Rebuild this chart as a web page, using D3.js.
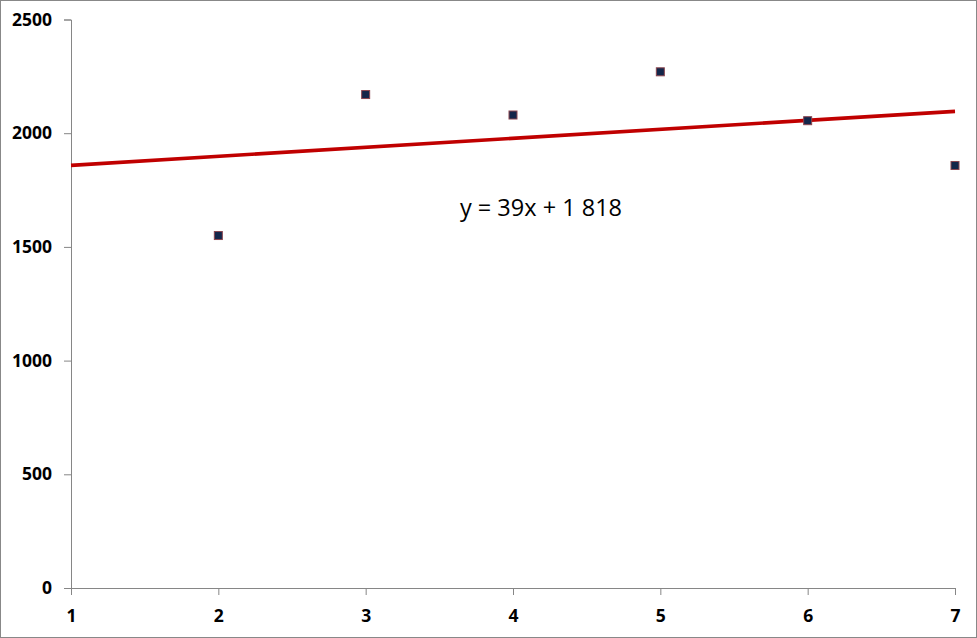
<!DOCTYPE html>
<html><head><meta charset="utf-8">
<script src="https://cdn.jsdelivr.net/npm/d3@7"></script>
<style>html,body{margin:0;padding:0;background:#fff;}svg{display:block;}</style>
</head><body>
<script>
const xValues = [2, 3, 4, 5, 6, 7];
const yValues = [1550, 2170, 2080, 2270, 2055, 1858];
const yTicks = [0, 500, 1000, 1500, 2000, 2500];
const xTicks = [1, 2, 3, 4, 5, 6, 7];
const equationLabel = "y = 39x + 1 818";

const W = 977, H = 638;
const svg = d3.select("body").append("svg").attr("width", W).attr("height", H);
svg.append("rect").attr("x", 0.5).attr("y", 0.5).attr("width", W - 1).attr("height", H - 1)
  .attr("fill", "#fff").attr("stroke", "#888");

const x = d3.scaleLinear().domain([1, 7]).range([71, 955]);
const y = d3.scaleLinear().domain([0, 2500]).range([588, 19.5]);

const font = "'Open Sans', 'Liberation Sans', sans-serif";

const yAxis = svg.append("g").attr("transform", "translate(71,0)")
  .call(d3.axisLeft(y).tickValues(yTicks).tickSize(7).tickPadding(12).tickFormat(d3.format("d")));
const xAxis = svg.append("g").attr("transform", "translate(0,588)")
  .call(d3.axisBottom(x).tickValues(xTicks).tickSize(7).tickPadding(15).tickFormat(d3.format("d")));
[yAxis, xAxis].forEach(g => {
  g.select(".domain").attr("stroke", "#868686");
  g.selectAll(".tick line").attr("stroke", "#868686");
  g.selectAll("text").attr("fill", "#000").style("font-family", font)
    .style("font-weight", "bold").style("font-size", "17.5px");
});

// linear regression trend line
const n = xValues.length;
const mx = d3.mean(xValues), my = d3.mean(yValues);
let sxy = 0, sxx = 0;
for (let i = 0; i < n; i++) { sxy += (xValues[i] - mx) * (yValues[i] - my); sxx += (xValues[i] - mx) ** 2; }
const slope = sxy / sxx, intercept = my - slope * mx;
const trend = [1, 7].map(v => [v, intercept + slope * v]);

svg.append("path").datum(trend)
  .attr("d", d3.line().x(d => x(d[0])).y(d => y(d[1])))
  .attr("stroke", "#c00000").attr("stroke-width", 3.6).attr("fill", "none");

const s = 8;
svg.selectAll("rect.pt").data(xValues.map((v, i) => [v, yValues[i]])).enter().append("rect")
  .attr("class", "pt")
  .attr("x", d => x(d[0]) - s / 2).attr("y", d => y(d[1]) - s / 2)
  .attr("width", s).attr("height", s)
  .attr("fill", "#13264a").attr("stroke", "#8a4650").attr("stroke-width", 1);

svg.append("text").attr("x", 541).attr("y", 216).attr("text-anchor", "middle")
  .style("font-family", font).style("font-size", "23.5px").attr("fill", "#000")
  .text(equationLabel);
</script>
</body></html>
